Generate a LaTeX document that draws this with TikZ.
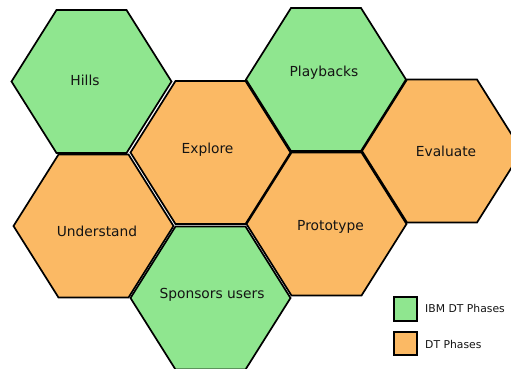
\documentclass[tikz,border=0pt]{standalone}
\usepackage{fontspec}
\setmainfont{DejaVu Sans}
\definecolor{phasegreen}{RGB}{143,230,143}
\definecolor{phaseorange}{RGB}{251,185,100}
\definecolor{inkdark}{RGB}{20,20,20}
\tikzset{
  pics/hexcell/.style={code={
    \draw[line width=1.7pt, line join=miter, draw=black, fill=#1]
      (-80,0) -- (-35,-71.5) -- (35,-71.5) -- (80,0) -- (35,71.5) -- (-35,71.5) -- cycle;
  }},
  phaselabel/.style={text=inkdark, font=\fontsize{13.8}{16}\selectfont, inner sep=0pt},
  legendkey/.style={draw=black, line width=1.6pt, minimum width=23pt, minimum height=23.5pt, inner sep=0pt},
  legendtext/.style={text=inkdark, font=\fontsize{10.8}{13}\selectfont, anchor=west, inner sep=0pt}
}
\begin{document}
\begin{tikzpicture}[x=1pt, y=-1pt]
  \useasboundingbox (0,0) rectangle (511,368);
  \clip (0,0) rectangle (511,368);

  % honeycomb of phases
  \pic at (91.5,81.5)  {hexcell=phasegreen};
  \pic at (210.5,152.5){hexcell=phaseorange};
  \pic at (326,79.5)   {hexcell=phasegreen};
  \pic at (442,151)    {hexcell=phaseorange};
  \pic at (93.5,226)   {hexcell=phaseorange};
  \pic at (210.5,298)  {hexcell=phasegreen};
  \pic at (326.5,224)  {hexcell=phaseorange};

  \node[phaselabel] (hills)      at (85,80)    {Hills};
  \node[phaselabel] (explore)    at (207.5,150) {Explore};
  \node[phaselabel] (playbacks)  at (324,73)   {Playbacks};
  \node[phaselabel] (evaluate)   at (446,151)  {Evaluate};
  \node[phaselabel] (understand) at (97,231)   {Understand};
  \node[phaselabel] (sponsors)   at (212,295)  {Sponsors users};
  \node[phaselabel] (prototype)  at (330.5,227) {Prototype};

  % legend
  \node[legendkey, fill=phasegreen]  (keyibm) at (405.5,309) {};
  \node[legendkey, fill=phaseorange] (keydt)  at (405.5,343.5) {};
  \node[legendtext] (txtibm) at (425,308) {IBM DT Phases};
  \node[legendtext] (txtdt)  at (425,344) {DT Phases};
\end{tikzpicture}
\end{document}
